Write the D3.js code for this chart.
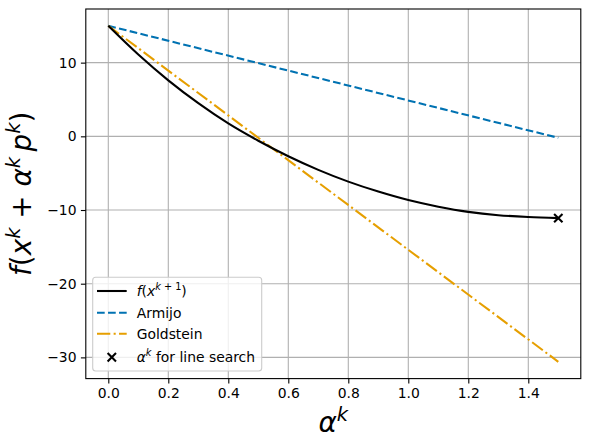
<!DOCTYPE html>
<html>
<head>
<meta charset="utf-8">
<script src="https://cdn.jsdelivr.net/npm/d3@7"></script>
<style>
body { margin: 0; background: #fff; }
text { font-family: "DejaVu Sans", sans-serif; }
</style>
</head>
<body>
<div id="chart"></div>
<script>
// values
var alphaVals = [0, 0.1, 0.2, 0.3, 0.4, 0.5, 0.6, 0.7, 0.8, 0.9, 1.0, 1.1, 1.2, 1.3, 1.4, 1.5];
var fVals = [15, 11.1, 7.6, 4.5, 1.75, -0.6, -2.7, -4.55, -6.15, -7.5, -8.65, -9.55, -10.25, -10.7, -10.95, -11.1];
var lineAlpha = [0, 1.5];
var armijoVals = [15, -0.2];
var goldsteinVals = [15, -30.6];
var searchAlpha = [1.5];
var searchF = [-11.1];
var xTicks = [0, 0.2, 0.4, 0.6, 0.8, 1.0, 1.2, 1.4];
var yTicks = [-30, -20, -10, 0, 10];

var width = 591,
	height = 448,
	margin = {top: 9, right: 10.2, bottom: 69.4, left: 85.8};

var svg = d3.select("#chart").append("svg")
	.attr("width", width)
	.attr("height", height);

var x = d3.scaleLinear().domain([-0.075, 1.575]).range([margin.left, width - margin.right]);
var y = d3.scaleLinear().domain([-32.88, 17.28]).range([height - margin.bottom, margin.top]);

// grid
var grid = svg.append("g").attr("stroke", "#b0b0b0").attr("stroke-width", 1.1);
grid.selectAll(".gx").data(xTicks).enter().append("line")
	.attr("x1", function(d) { return x(d); }).attr("x2", function(d) { return x(d); })
	.attr("y1", y.range()[0]).attr("y2", y.range()[1]);
grid.selectAll(".gy").data(yTicks).enter().append("line")
	.attr("y1", function(d) { return y(d); }).attr("y2", function(d) { return y(d); })
	.attr("x1", x.range()[0]).attr("x2", x.range()[1]);

// axes
var xAxis = d3.axisBottom(x).tickValues(xTicks).tickFormat(d3.format(".1f")).tickSize(4.9).tickPadding(4.4);
var yAxis = d3.axisLeft(y).tickValues(yTicks).tickFormat(d3.format("d")).tickSize(4.9).tickPadding(4.4);

var gx = svg.append("g").attr("transform", "translate(0," + y.range()[0] + ")").call(xAxis);
var gy = svg.append("g").attr("transform", "translate(" + x.range()[0] + ",0)").call(yAxis);
[gx, gy].forEach(function(g) {
	g.select(".domain").remove();
	g.selectAll(".tick line").attr("stroke", "#000").attr("stroke-width", 1.1);
	g.selectAll(".tick text").attr("fill", "#000").style("font-size", "13.9px").style("font-family", "DejaVu Sans");
});

// series
var line = d3.line()
	.x(function(d) { return x(d[0]); })
	.y(function(d) { return y(d[1]); });

svg.append("path")
	.datum(d3.zip(lineAlpha, armijoVals))
	.attr("d", line)
	.attr("fill", "none")
	.attr("stroke", "#0072b2")
	.attr("stroke-width", 2.08)
	.attr("stroke-dasharray", "7.7,3.33");

svg.append("path")
	.datum(d3.zip(lineAlpha, goldsteinVals))
	.attr("d", line)
	.attr("fill", "none")
	.attr("stroke", "#e69f00")
	.attr("stroke-width", 2.08)
	.attr("stroke-dasharray", "13.3,3.33,2.08,3.33");

svg.append("path")
	.datum(d3.zip(alphaVals, fVals))
	.attr("d", line.curve(d3.curveMonotoneX))
	.attr("fill", "none")
	.attr("stroke", "#000")
	.attr("stroke-width", 2.08);

function cross(g, cx, cy) {
	var s = 4.2;
	g.append("path")
		.attr("d", "M" + (cx - s) + "," + (cy - s) + "L" + (cx + s) + "," + (cy + s) +
			"M" + (cx - s) + "," + (cy + s) + "L" + (cx + s) + "," + (cy - s))
		.attr("stroke", "#000")
		.attr("stroke-width", 2.08)
		.attr("fill", "none");
}

d3.zip(searchAlpha, searchF).forEach(function(d) {
	cross(svg, x(d[0]), y(d[1]));
});

// frame
svg.append("rect")
	.attr("x", x.range()[0]).attr("y", y.range()[1])
	.attr("width", x.range()[1] - x.range()[0])
	.attr("height", y.range()[0] - y.range()[1])
	.attr("fill", "none").attr("stroke", "#000").attr("stroke-width", 1.1);

// axis labels
var xl = svg.append("text")
	.attr("x", (x.range()[0] + x.range()[1]) / 2)
	.attr("y", 432)
	.attr("text-anchor", "middle")
	.style("font-size", "27.8px");
xl.append("tspan").style("font-style", "italic").text("α");
xl.append("tspan").attr("dy", -11).style("font-size", "19.5px").style("font-style", "italic").text("k");

var yl = svg.append("text")
	.attr("transform", "translate(31," + ((y.range()[0] + y.range()[1]) / 2) + ") rotate(-90)")
	.attr("text-anchor", "middle")
	.style("font-size", "27.8px");
var ylParts = [
	["f", true, 0], ["(", false, 0], ["x", true, 0], ["k", true, 1], [" + ", false, 0],
	["α", true, 0], ["k", true, 1], ["\u2009p", true, 0], ["k", true, 1], [")", false, 0]
];
var up = false;
ylParts.forEach(function(p) {
	var t = yl.append("tspan").text(p[0]);
	if (p[1]) t.style("font-style", "italic");
	if (p[2]) {
		t.style("font-size", "19.5px").attr("dy", up ? 0 : -11);
		up = true;
	} else {
		t.attr("dy", up ? 11 : 0);
		up = false;
	}
});

// legend
var lg = svg.append("g");
lg.append("rect")
	.attr("x", 92.7).attr("y", 277.3)
	.attr("width", 169).attr("height", 93.7)
	.attr("rx", 3)
	.attr("fill", "#fff").attr("fill-opacity", 0.8)
	.attr("stroke", "#cccccc").attr("stroke-width", 1.1);

var rows = [291, 312.7, 333.7, 357.3];
lg.append("line").attr("x1", 97).attr("x2", 126.7).attr("y1", rows[0]).attr("y2", rows[0])
	.attr("stroke", "#000").attr("stroke-width", 2.08);
lg.append("line").attr("x1", 97).attr("x2", 126.7).attr("y1", rows[1]).attr("y2", rows[1])
	.attr("stroke", "#0072b2").attr("stroke-width", 2.08).attr("stroke-dasharray", "7.7,3.33");
lg.append("line").attr("x1", 97).attr("x2", 126.7).attr("y1", rows[2]).attr("y2", rows[2])
	.attr("stroke", "#e69f00").attr("stroke-width", 2.08).attr("stroke-dasharray", "13.3,3.33,2.08,3.33");
cross(lg, 111.8, rows[3]);

function legText(yy) {
	return lg.append("text").attr("x", 136.7).attr("y", yy + 5).style("font-size", "13.9px");
}
var t0 = legText(rows[0]);
t0.append("tspan").style("font-style", "italic").text("f");
t0.append("tspan").text("(");
t0.append("tspan").style("font-style", "italic").text("x");
t0.append("tspan").attr("dy", -6).style("font-size", "9.7px").style("font-style", "italic").text("k");
t0.append("tspan").style("font-size", "9.7px").text(" + 1");
t0.append("tspan").attr("dy", 6).text(")");
legText(rows[1]).text("Armijo");
legText(rows[2]).text("Goldstein");
var t3 = legText(rows[3]);
t3.append("tspan").style("font-style", "italic").text("α");
t3.append("tspan").attr("dy", -6).style("font-size", "9.7px").style("font-style", "italic").text("k");
t3.append("tspan").attr("dy", 6).text(" for line search");
</script>
</body>
</html>
